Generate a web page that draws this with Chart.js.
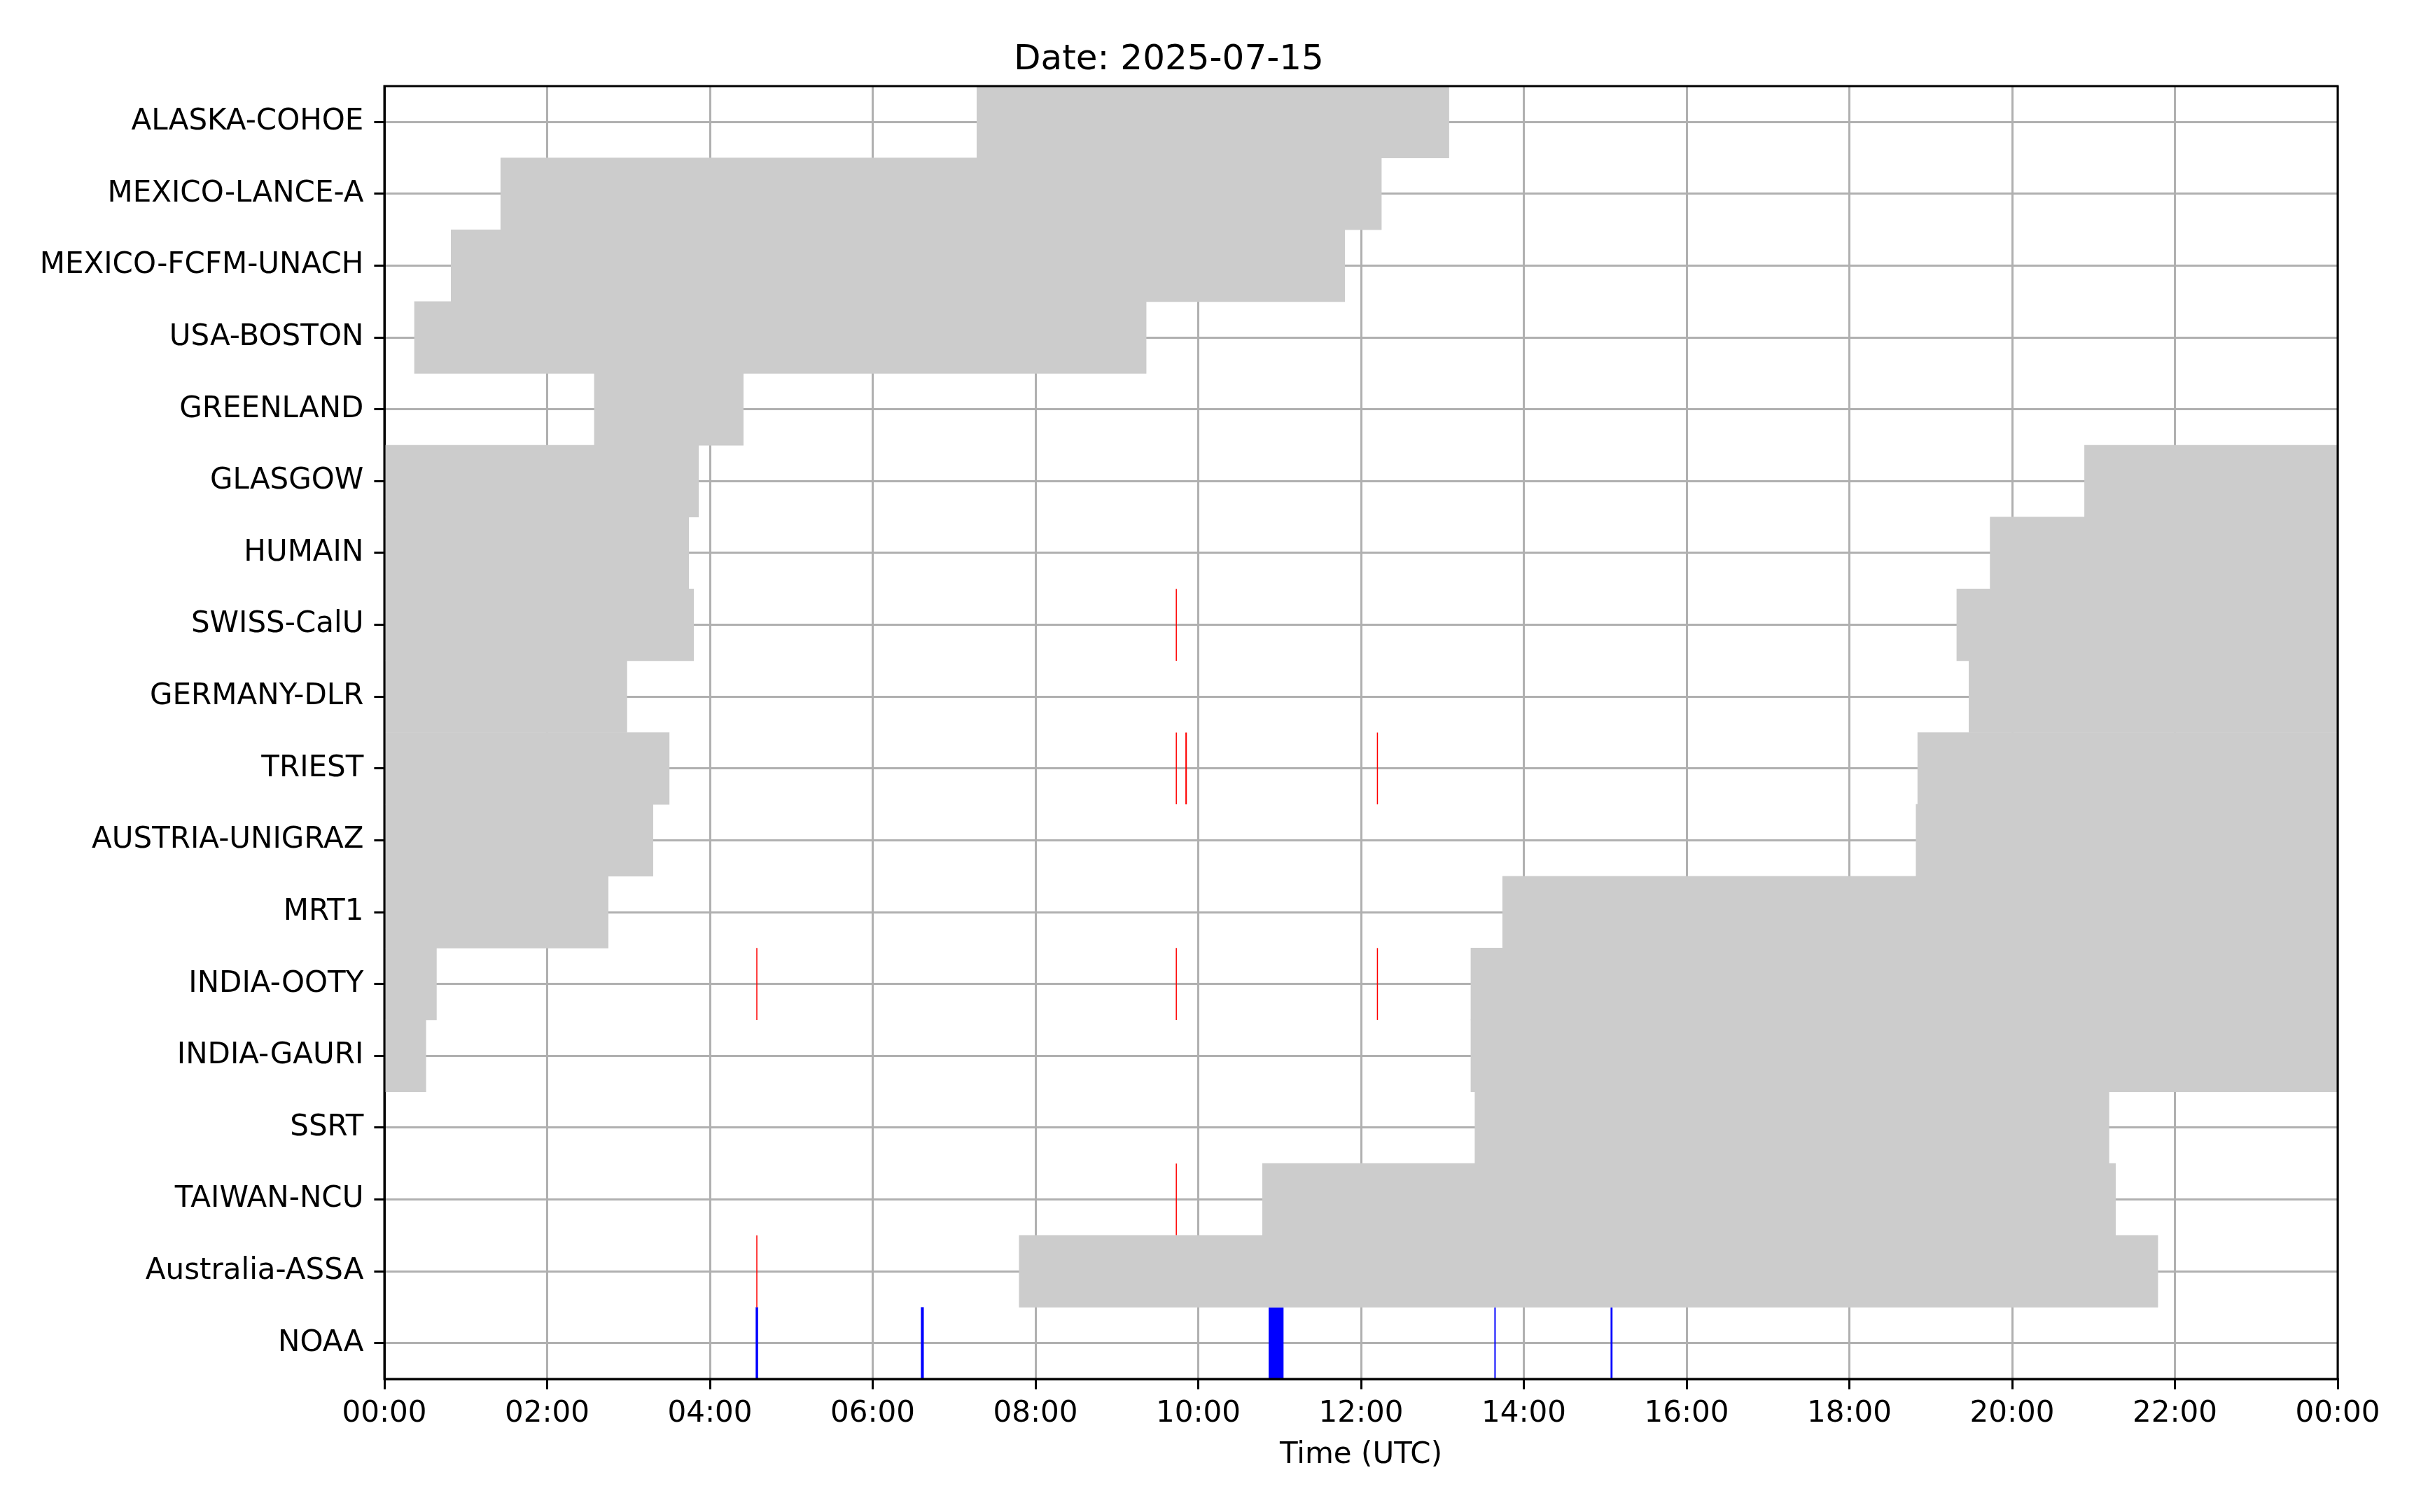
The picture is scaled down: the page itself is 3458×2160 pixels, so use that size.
<!DOCTYPE html>
<html>
<head>
<meta charset="utf-8">
<script src="https://cdn.jsdelivr.net/npm/chart.js@4.4.1/dist/chart.umd.min.js"></script>
<style>
  html, body { margin: 0; padding: 0; background: #fff; }
  #wrap { width: 3458px; height: 2160px; }
</style>
</head>
<body>
<div id="wrap"><canvas id="chart" width="3458" height="2160"></canvas></div>
<script>
// Stations, top to bottom
const stations = [
  "ALASKA-COHOE", "MEXICO-LANCE-A", "MEXICO-FCFM-UNACH", "USA-BOSTON", "GREENLAND",
  "GLASGOW", "HUMAIN", "SWISS-CalU", "GERMANY-DLR", "TRIEST", "AUSTRIA-UNIGRAZ",
  "MRT1", "INDIA-OOTY", "INDIA-GAURI", "SSRT", "TAIWAN-NCU", "Australia-ASSA", "NOAA"
];

// Observing windows (hours UTC), one entry per grey segment
const covStation = [
  "ALASKA-COHOE", "MEXICO-LANCE-A", "MEXICO-FCFM-UNACH", "USA-BOSTON", "GREENLAND",
  "GLASGOW", "GLASGOW", "HUMAIN", "HUMAIN", "SWISS-CalU", "SWISS-CalU",
  "GERMANY-DLR", "GERMANY-DLR", "TRIEST", "TRIEST", "AUSTRIA-UNIGRAZ", "AUSTRIA-UNIGRAZ",
  "MRT1", "MRT1", "INDIA-OOTY", "INDIA-OOTY", "INDIA-GAURI", "INDIA-GAURI",
  "SSRT", "TAIWAN-NCU", "Australia-ASSA"
];
const covStart = [
  7.28, 1.43, 0.82, 0.37, 2.58,
  0, 20.89, 0, 19.73, 0, 19.32,
  0, 19.47, 0, 18.84, 0, 18.82,
  0, 13.74, 0, 13.35, 0, 13.35,
  13.40, 10.79, 7.80
];
const covEnd = [
  13.08, 12.25, 11.80, 9.36, 4.41,
  3.86, 24, 3.74, 24, 3.80, 24,
  2.98, 24, 3.50, 24, 3.30, 24,
  2.75, 24, 0.64, 24, 0.51, 24,
  21.19, 21.27, 21.79
];

// Detected events (red)
const evtStation = [
  "SWISS-CalU", "TRIEST", "TRIEST", "TRIEST",
  "INDIA-OOTY", "INDIA-OOTY", "INDIA-OOTY", "TAIWAN-NCU", "Australia-ASSA"
];
const evtStart = [9.724, 9.724, 9.842, 12.195, 4.570, 9.724, 12.195, 9.724, 4.570];
const evtEnd   = [9.737, 9.737, 9.860, 12.208, 4.583, 9.737, 12.208, 9.737, 4.583];

// NOAA flares (blue)
const noaaStart = [4.562, 6.592, 10.865, 13.638, 15.066];
const noaaEnd   = [4.592, 6.628, 11.048, 13.655, 15.090];

const hourTicks = [0, 2, 4, 6, 8, 10, 12, 14, 16, 18, 20, 22, 24];

const FONT = "'DejaVu Sans', 'Liberation Sans', sans-serif";
Chart.defaults.font.family = FONT;
Chart.defaults.color = "#000";

function segments(names, starts, ends) {
  return names.map((n, i) => ({ y: n, x: [starts[i], ends[i]] }));
}

// top and right spines, like the matplotlib frame
const framePlugin = {
  id: "frame",
  afterDraw(chart) {
    const { ctx, chartArea: a } = chart;
    ctx.save();
    ctx.strokeStyle = "#000";
    ctx.lineWidth = 3;
    ctx.strokeRect(a.left, a.top, a.right - a.left, a.bottom - a.top);
    ctx.restore();
  }
};

new Chart(document.getElementById("chart"), {
  type: "bar",
  data: {
    labels: stations,
    datasets: [
      {
        label: "coverage",
        data: segments(covStation, covStart, covEnd),
        backgroundColor: "#cccccc",
        borderWidth: 0
      },
      {
        label: "events",
        data: segments(evtStation, evtStart, evtEnd),
        backgroundColor: "#ff0000",
        borderWidth: 0,
        inflateAmount: 0
      },
      {
        label: "NOAA",
        data: noaaStart.map((s, i) => ({ y: "NOAA", x: [s, noaaEnd[i]] })),
        backgroundColor: "#0000ff",
        borderWidth: 0,
        inflateAmount: 0
      }
    ]
  },
  options: {
    indexAxis: "y",
    responsive: false,
    devicePixelRatio: 1,
    animation: false,
    grouped: false,
    barPercentage: 1,
    categoryPercentage: 1,
    layout: { padding: { left: 0, right: 119, top: 0, bottom: 0 } },
    plugins: {
      legend: { display: false },
      tooltip: { enabled: false },
      title: {
        display: true,
        text: "Date: 2025-07-15",
        color: "#000",
        font: { size: 50, weight: "normal", lineHeight: 1.2 },
        padding: { top: 56, bottom: 7 }
      }
    },
    scales: {
      x: {
        type: "linear",
        min: 0,
        max: 24,
        z: 1,
        afterBuildTicks(scale) {
          scale.ticks = hourTicks.map(v => ({ value: v }));
        },
        afterFit(scale) { scale.height = 190; },
        ticks: {
          font: { size: 42 },
          padding: 10,
          maxRotation: 0,
          callback: v => String(v % 24).padStart(2, "0") + ":00"
        },
        grid: {
          color: "#b0b0b0",
          lineWidth: 3,
          tickColor: "#000",
          tickWidth: 3,
          tickLength: 14.6
        },
        border: { color: "#000", width: 3 },
        title: {
          display: true,
          text: "Time (UTC)",
          font: { size: 42 },
          padding: { top: 0, bottom: 56 }
        }
      },
      y: {
        type: "category",
        offset: true,
        z: 1,
        afterFit(scale) { scale.width = 549; },
        ticks: { font: { size: 42 }, padding: 15, autoSkip: false },
        grid: {
          offset: false,
          color: "#b0b0b0",
          lineWidth: 3,
          tickColor: "#000",
          tickWidth: 3,
          tickLength: 14.6
        },
        border: { color: "#000", width: 3 }
      }
    }
  },
  plugins: [framePlugin]
});
</script>
</body>
</html>
